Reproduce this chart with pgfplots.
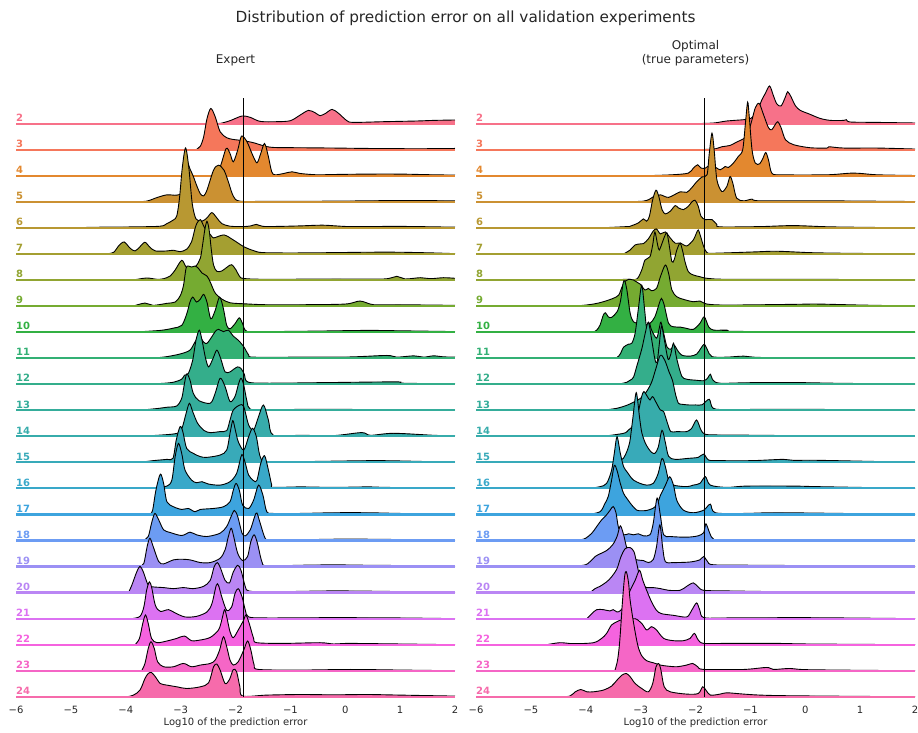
\documentclass[border=0pt]{standalone}
\usepackage{pgfplots}
\pgfplotsset{compat=1.18}
\usepackage{fontspec}
\setmainfont{DejaVu Sans}

\definecolor{txt}{HTML}{262626}
\definecolor{c2}{HTML}{F77189}
\definecolor{c3}{HTML}{F5775B}
\definecolor{c4}{HTML}{E3882F}
\definecolor{c5}{HTML}{CB9132}
\definecolor{c6}{HTML}{B89832}
\definecolor{c7}{HTML}{A49F31}
\definecolor{c8}{HTML}{91A532}
\definecolor{c9}{HTML}{75AB31}
\definecolor{c10}{HTML}{33B043}
\definecolor{c11}{HTML}{33B074}
\definecolor{c12}{HTML}{34AE8B}
\definecolor{c13}{HTML}{35AD9B}
\definecolor{c14}{HTML}{37ACAB}
\definecolor{c15}{HTML}{38AAB9}
\definecolor{c16}{HTML}{39A8C9}
\definecolor{c17}{HTML}{3DA4DE}
\definecolor{c18}{HTML}{6C9CF3}
\definecolor{c19}{HTML}{9B90F4}
\definecolor{c20}{HTML}{BA86F4}
\definecolor{c21}{HTML}{DC72F2}
\definecolor{c22}{HTML}{F563DF}
\definecolor{c23}{HTML}{F566C6}
\definecolor{c24}{HTML}{F66BAB}

% one ridge: colour, baseline (px from top), label, (x, height in px) points
\newcommand{\ridge}[4]{%
  \addplot[fill=#1, draw=none, smooth, tension=0.5, y filter/.expression={y-#2}] coordinates {#4} -- (axis cs:2,-#2) -- cycle;
  \addplot[draw=black, line width=0.9bp, smooth, tension=0.5, y filter/.expression={y-#2}] coordinates {#4};
  \addplot[draw=#1, line width=2.2bp] coordinates {(-6,-#2) (2,-#2)};
  \node[anchor=base west, inner sep=0, text=#1, font=\bfseries\fontsize{10bp}{12bp}\selectfont] at (axis cs:-6,{-#2+2.2}) {#3};
}

\pgfplotsset{ridgeaxis/.style={
  scale only axis, width=439bp, height=617bp,
  xmin=-6, xmax=2, ymin=-697, ymax=-80,
  clip=false,
  axis line style={draw=none},
  ytick=\empty,
  xtick={-6,-5,-4,-3,-2,-1,0,1,2},
  xticklabels={−6,−5,−4,−3,−2,−1,0,1,2},
  major tick length=0pt,
  xticklabel style={anchor=base, yshift=-16bp, font=\fontsize{10bp}{12bp}\selectfont, text=txt},
  xlabel={Log10 of the prediction error},
  xlabel style={at={(axis description cs:0.5,0)}, anchor=base, yshift=-28bp, font=\fontsize{10bp}{12bp}\selectfont, text=txt},
}}

\begin{document}
\begin{tikzpicture}
\useasboundingbox (0,0) rectangle (918bp,733bp);

\node[anchor=base, text=txt, font=\fontsize{15.3bp}{17bp}\selectfont] at (465.5bp,710bp) {Distribution of prediction error on all validation experiments};
\node[anchor=base, text=txt, font=\fontsize{12bp}{14bp}\selectfont] at (235.5bp,669bp) {Expert};
\node[anchor=base, text=txt, font=\fontsize{12bp}{14bp}\selectfont] at (695.5bp,683bp) {Optimal};
\node[anchor=base, text=txt, font=\fontsize{12bp}{14bp}\selectfont] at (695.5bp,669bp) {(true parameters)};

% ---------------- Expert ----------------
\begin{axis}[ridgeaxis, at={(16bp,36bp)}, anchor=south west]
\ridge{c2}{123.7}{2}{(-2.45,0) (-2.28,0.3) (-2.10,3) (-1.88,7.7) (-1.73,6.3) (-1.55,2.3) (-1.25,2) (-1.0,3) (-0.82,8.7) (-0.67,13.3) (-0.55,11) (-0.46,8) (-0.36,10.3) (-0.24,14.3) (-0.12,10.3) (0.03,3) (0.15,1.3) (0.70,2) (1.31,2.7) (1.61,3.3) (2,3.7)}
\ridge{c3}{149.75}{3}{(-2.72,0) (-2.64,3.7) (-2.58,13) (-2.52,31) (-2.45,41.3) (-2.37,33) (-2.28,18) (-2.16,12) (-2.04,10.3) (-1.85,9) (-1.67,7) (-1.49,4) (-1.31,2.3) (-0.82,2) (-0.21,1.7) (0.40,1.3) (1.31,1) (2,1.3)}
\ridge{c4}{175.8}{4}{(-3.25,0) (-2.40,0.5) (-2.28,9) (-2.17,27.3) (-2.10,22.3) (-2.04,14) (-1.96,25.7) (-1.89,39.7) (-1.79,34) (-1.70,22.3) (-1.61,13) (-1.54,22.3) (-1.47,32.3) (-1.40,19) (-1.34,4) (-1.28,1) (-1.12,2.3) (-0.97,4) (-0.82,2.3) (-0.52,1) (-0.21,1.3) (0.40,1.7) (1.0,1.7) (1.61,1) (2,0.7)}
\ridge{c5}{201.85}{5}{(-3.86,0) (-3.62,0.7) (-3.43,4.3) (-3.25,7) (-3.07,6.7) (-2.98,10) (-2.92,30) (-2.88,40) (-2.83,33) (-2.77,25.7) (-2.71,16.7) (-2.64,8) (-2.58,6) (-2.52,11.7) (-2.40,31.7) (-2.31,36.7) (-2.21,31.7) (-2.13,20) (-2.04,5.7) (-1.92,0.7) (-1.43,0.5) (-0.21,0.7) (1.0,1.3) (2,1)}
\ridge{c6}{227.9}{6}{(-5.08,0) (-4.47,0.7) (-3.86,1) (-3.37,1.7) (-3.25,4.3) (-3.13,8) (-3.07,12) (-3.02,30) (-2.97,60) (-2.91,80) (-2.85,60) (-2.79,25) (-2.72,9) (-2.61,6.7) (-2.52,10) (-2.43,15.3) (-2.34,10) (-2.25,4.3) (-2.10,1.7) (-1.86,1.3) (-1.72,2) (-1.62,3.5) (-1.50,1.5) (-1.20,1.5) (-0.82,2) (-0.40,2.7) (0.09,1.3) (1.0,1.5) (2,0.7)}
\ridge{c7}{253.95}{7}{(-4.35,0) (-4.22,1.7) (-4.13,8) (-4.03,12) (-3.92,5.7) (-3.83,3) (-3.74,7.3) (-3.65,11.7) (-3.56,6.7) (-3.46,3) (-3.25,3) (-3.13,3.7) (-3.01,2.3) (-2.89,4.7) (-2.80,12.3) (-2.74,25) (-2.70,31) (-2.64,34.3) (-2.58,28) (-2.52,22) (-2.45,19) (-2.40,16) (-2.21,19) (-2.04,14) (-1.85,7.3) (-1.67,3.3) (-1.49,1.3) (-0.82,1) (0.40,1.7) (1.0,1.7) (1.61,1) (2,0.3)}
\ridge{c8}{280.0}{8}{(-3.86,0) (-3.62,2) (-3.43,0.7) (-3.31,1.3) (-3.19,4) (-3.10,10) (-2.98,19.7) (-2.90,13) (-2.83,12) (-2.72,14) (-2.64,22) (-2.60,35) (-2.56,50) (-2.52,58.7) (-2.48,50) (-2.44,30) (-2.40,15) (-2.34,8.7) (-2.25,9) (-2.15,13) (-2.07,15.3) (-1.99,10) (-1.93,4) (-1.85,1.5) (-1.43,0.7) (-0.21,1) (0.70,1) (0.94,3.7) (1.09,1) (1.37,2.3) (1.55,1.3) (1.79,2.3) (2,1.7)}
\ridge{c9}{306.05}{9}{(-3.86,0) (-3.65,3) (-3.50,0.7) (-3.25,2.7) (-3.10,4) (-3.01,10) (-2.95,20) (-2.90,38) (-2.86,40) (-2.80,39) (-2.74,40) (-2.68,38) (-2.61,33) (-2.52,30) (-2.46,24) (-2.37,13) (-2.25,7) (-2.10,3.3) (-1.86,2.3) (-1.43,1.3) (-0.82,1.3) (0.0,2) (0.27,5) (0.52,1.3) (1.0,1.3) (2,0.7)}
\ridge{c10}{332.1}{10}{(-3.86,0) (-3.37,1.7) (-3.13,4) (-2.98,6.7) (-2.89,18) (-2.83,30) (-2.78,35) (-2.71,30) (-2.64,33) (-2.58,37.7) (-2.52,30) (-2.45,13.3) (-2.37,21.7) (-2.29,35) (-2.22,23.3) (-2.16,6.7) (-2.10,3.3) (-2.01,8.3) (-1.93,14.3) (-1.87,8.3) (-1.79,0.7) (-1.43,0.5) (-0.52,1) (0.40,1.7) (1.0,1.3) (2,0.5)}
\ridge{c11}{358.15}{11}{(-3.50,0) (-3.25,1.5) (-3.0,4.3) (-2.83,8) (-2.74,16) (-2.66,22) (-2.58,16) (-2.52,14.8) (-2.45,19.8) (-2.37,26.5) (-2.31,28.8) (-2.22,26.5) (-2.13,28) (-2.04,22) (-1.95,18) (-1.85,11.5) (-1.76,3.2) (-1.67,1) (-0.82,1) (0.09,1.2) (0.76,2.7) (0.94,1) (1.25,2.3) (1.43,1) (1.61,2.3) (1.79,1.3) (2,1)}
\ridge{c12}{384.2}{12}{(-3.86,0) (-3.37,0.7) (-3.13,2) (-2.98,5) (-2.93,9) (-2.86,10.7) (-2.78,24) (-2.72,44) (-2.66,54) (-2.61,44) (-2.55,27) (-2.49,17.3) (-2.41,25.7) (-2.34,34) (-2.27,25.7) (-2.19,12.3) (-2.10,12.3) (-2.04,14.7) (-1.96,17.3) (-1.90,15.7) (-1.84,10) (-1.78,2.3) (-1.43,1) (-0.21,1.7) (0.94,2.3) (1.06,1) (2,0.3)}
\ridge{c13}{410.25}{13}{(-3.74,0) (-3.43,1.7) (-3.25,3) (-3.07,4.3) (-2.98,12) (-2.94,23.7) (-2.89,36.3) (-2.83,30.3) (-2.77,17) (-2.67,9.7) (-2.46,7) (-2.37,17) (-2.28,32) (-2.19,23.7) (-2.10,8.7) (-2.01,13.7) (-1.95,25.3) (-1.90,32) (-1.85,25.3) (-1.79,8.7) (-1.73,1) (-1.43,0.5) (-0.52,1) (0.40,0.7) (1.61,0.5) (2,0)}
\ridge{c14}{436.3}{14}{(-3.74,0) (-3.13,2.3) (-2.99,6.3) (-2.90,23) (-2.84,33) (-2.78,24.7) (-2.69,13) (-2.57,5.7) (-2.46,3.7) (-2.28,4.7) (-2.16,5.7) (-2.10,16.3) (-2.04,26.3) (-1.92,31.3) (-1.85,29.7) (-1.76,11.3) (-1.67,6.3) (-1.58,19.7) (-1.49,31.3) (-1.40,16.3) (-1.31,1) (-0.82,1) (-0.21,0.7) (0.30,3.7) (0.46,1) (0.88,3) (1.61,1) (2,0.3)}
\ridge{c15}{462.35}{15}{(-3.74,0) (-3.50,1.7) (-3.25,3) (-3.14,4) (-3.08,22.3) (-3.01,35.7) (-2.96,30.7) (-2.89,14) (-2.77,9) (-2.64,5.7) (-2.52,5) (-2.28,7.3) (-2.16,12.3) (-2.10,29) (-2.05,41.7) (-2.01,34) (-1.95,20.7) (-1.85,12.3) (-1.76,25.7) (-1.69,34) (-1.62,25.7) (-1.55,5.7) (-1.43,0.7) (-0.82,0.7) (0.52,1.7) (1.31,1) (2,0)}
\ridge{c16}{488.4}{16}{(-3.86,0) (-3.43,1) (-3.25,2.3) (-3.16,8.3) (-3.10,31.7) (-3.04,45) (-2.98,35) (-2.92,18.3) (-2.80,8.3) (-2.71,5.7) (-2.61,6.7) (-2.49,4.3) (-2.28,3.3) (-2.10,6.7) (-1.98,15) (-1.90,31.7) (-1.87,33.3) (-1.82,25) (-1.76,13.3) (-1.67,7.7) (-1.61,8) (-1.54,25) (-1.47,32.7) (-1.40,18.3) (-1.34,3.3) (-1.31,1) (-0.82,1.5) (-0.21,1) (0.40,1.5) (0.76,1) (2,0)}
\ridge{c17}{514.45}{17}{(-3.56,0) (-3.51,4.3) (-3.45,24.3) (-3.37,40.3) (-3.31,31) (-3.25,12.7) (-3.13,7.7) (-2.98,5) (-2.86,6) (-2.74,2.7) (-2.64,5) (-2.40,6) (-2.22,7.7) (-2.10,12.7) (-2.04,24.3) (-1.99,31) (-1.93,24.3) (-1.87,9.3) (-1.76,6) (-1.67,14.3) (-1.58,29.3) (-1.50,19.3) (-1.43,2.7) (-1.31,1) (-0.82,1) (-0.21,1.7) (0.40,1.7) (1.0,1) (2,0)}
\ridge{c18}{540.5}{18}{(-3.68,0) (-3.59,4) (-3.53,17.3) (-3.47,27) (-3.40,20.7) (-3.31,10.7) (-3.19,8) (-2.98,5) (-2.83,8.3) (-2.71,5.7) (-2.52,4) (-2.28,7.3) (-2.16,14) (-2.08,24) (-2.02,30) (-1.96,24) (-1.88,7.3) (-1.82,4.7) (-1.73,10.7) (-1.65,24) (-1.61,27.5) (-1.55,17.3) (-1.46,2.3) (-1.37,0.7) (-0.82,0.7) (-0.21,1.3) (0.40,1.3) (1.31,0.7) (2,0)}
\ridge{c19}{566.55}{19}{(-3.74,0) (-3.67,3.3) (-3.61,20) (-3.56,28.3) (-3.50,20) (-3.40,5) (-3.31,2.7) (-3.13,6.7) (-2.98,7.3) (-2.83,6.7) (-2.64,4) (-2.46,4) (-2.28,8.3) (-2.19,16.7) (-2.13,30) (-2.08,38.3) (-2.04,31.7) (-1.96,13.3) (-1.87,6) (-1.78,10) (-1.72,25) (-1.66,31.7) (-1.60,23.3) (-1.52,5) (-1.43,0.7) (-0.82,1.3) (-0.21,1.7) (0.40,1.3) (1.61,0.7) (2,0)}
\ridge{c20}{592.6}{20}{(-3.95,0) (-3.89,7.3) (-3.80,20.7) (-3.74,26.3) (-3.68,20.7) (-3.59,7.3) (-3.50,5.7) (-3.31,5) (-3.13,4) (-2.95,5) (-2.77,4) (-2.58,6.3) (-2.46,12.3) (-2.39,25.7) (-2.33,30) (-2.27,24) (-2.19,12.3) (-2.11,9.7) (-2.04,20.7) (-1.96,27.3) (-1.90,22.3) (-1.82,5.7) (-1.76,1.7) (-1.43,0.7) (-0.21,1.7) (1.0,1) (2,0)}
\ridge{c21}{618.65}{21}{(-3.89,0) (-3.74,2.3) (-3.67,11.7) (-3.62,28.3) (-3.57,36.7) (-3.53,31.7) (-3.46,13.3) (-3.37,7.3) (-3.22,9) (-3.10,5.7) (-2.92,1.7) (-2.71,2.3) (-2.52,6.7) (-2.43,15) (-2.35,33.3) (-2.31,33.3) (-2.25,21.7) (-2.16,8.3) (-2.07,11.7) (-2.01,25) (-1.95,30) (-1.88,21.7) (-1.82,8.3) (-1.76,1.7) (-1.43,0.7) (-0.21,1) (1.0,0.7) (2,0)}
\ridge{c22}{644.7}{22}{(-3.83,0) (-3.75,6.3) (-3.69,21.3) (-3.64,29.7) (-3.59,21.3) (-3.53,6.3) (-3.43,2) (-3.25,3.7) (-3.07,6.3) (-2.93,8.7) (-2.80,4) (-2.64,4.7) (-2.46,7.3) (-2.31,14.7) (-2.25,24.7) (-2.20,35) (-2.16,28) (-2.10,13) (-2.04,7) (-1.95,14.7) (-1.85,24.7) (-1.81,29.7) (-1.75,21.3) (-1.67,6.3) (-1.61,2) (-1.12,1.3) (-0.46,2) (-0.21,0.7) (0.03,1.3) (0.6,1) (2,0)}
\ridge{c23}{670.75}{23}{(-3.71,0) (-3.65,7.3) (-3.59,22.3) (-3.54,29) (-3.48,22.3) (-3.42,9) (-3.31,4) (-3.13,4) (-2.95,7.3) (-2.80,4) (-2.64,5.7) (-2.46,7.3) (-2.37,10.7) (-2.29,20.7) (-2.22,34) (-2.16,24) (-2.10,10.7) (-2.04,5.7) (-1.95,9) (-1.85,20.7) (-1.78,29.7) (-1.72,20.7) (-1.66,5.7) (-1.58,1.3) (-0.82,0.7) (0.09,1.3) (1.0,0.7) (2,0)}
\ridge{c24}{696.8}{24}{(-3.98,0) (-3.86,1.7) (-3.74,6.7) (-3.65,18.3) (-3.59,23.3) (-3.53,24.3) (-3.46,20) (-3.37,13.3) (-3.25,11.7) (-3.07,10) (-2.89,8.3) (-2.64,10) (-2.49,14) (-2.40,30) (-2.34,32.7) (-2.28,26.7) (-2.19,13.3) (-2.11,17.3) (-2.04,27.3) (-1.98,25) (-1.92,10) (-1.87,0.7) (-1.43,1.7) (-0.82,2.3) (-0.21,2) (0.40,2.3) (1.0,1.7) (2,0.7)}
\addplot[black, line width=0.8bp] coordinates {(-1.86,-697) (-1.86,-98)};
\end{axis}

% ---------------- Optimal ----------------
\begin{axis}[ridgeaxis, at={(476bp,36bp)}, anchor=south west]
\ridge{c2}{123.7}{2}{(-2.04,0) (-1.67,0.7) (-1.43,2.7) (-1.12,4) (-1.0,5) (-0.88,12) (-0.79,24) (-0.73,30) (-0.65,37.7) (-0.58,28) (-0.52,20) (-0.44,17.7) (-0.36,27) (-0.32,32) (-0.26,27) (-0.18,18) (-0.09,13.3) (0.06,10) (0.27,5.3) (0.46,3.3) (0.70,3.3) (0.75,4) (0.82,1.7) (1.31,1.3) (2,0.7)}
\ridge{c3}{149.75}{3}{(-2.04,0) (-1.67,0.7) (-1.52,3) (-1.37,4.3) (-1.25,7.7) (-1.16,10) (-1.06,14) (-0.97,30) (-0.91,42) (-0.84,46.3) (-0.76,35) (-0.67,22) (-0.61,20) (-0.55,25) (-0.50,28) (-0.44,22) (-0.36,10) (-0.21,5) (0.09,2) (0.40,1.7) (0.43,3) (0.70,1.7) (1.31,1.7) (2,0.7)}
\ridge{c4}{175.8}{4}{(-2.95,0) (-2.43,1) (-2.13,2.7) (-2.04,7.7) (-1.96,11) (-1.90,7.7) (-1.82,7.7) (-1.76,10) (-1.68,10) (-1.55,6) (-1.46,9.3) (-1.40,8.3) (-1.31,12.7) (-1.22,19.3) (-1.14,26) (-1.09,52.7) (-1.05,73.7) (-1.02,59) (-0.97,26) (-0.91,12.7) (-0.83,12) (-0.77,17.7) (-0.72,23.3) (-0.67,16) (-0.61,2.7) (-0.46,1) (0.40,1) (0.88,2.7) (1.31,1) (2,0.3)}
\ridge{c5}{201.85}{5}{(-3.56,0) (-2.95,0.7) (-2.77,5) (-2.64,7) (-2.49,4.5) (-2.28,10) (-2.16,9.5) (-2.07,14) (-1.98,20) (-1.88,25) (-1.79,27) (-1.75,48) (-1.70,68.7) (-1.66,52) (-1.61,22) (-1.52,10.3) (-1.43,15.3) (-1.37,25.3) (-1.32,18.7) (-1.25,3.7) (-1.12,1) (-0.97,2.7) (-0.82,1) (0.40,1) (2,0.3)}
\ridge{c6}{227.9}{6}{(-3.74,0) (-3.25,1.3) (-3.19,1.7) (-3.04,5) (-2.95,9) (-2.89,6.7) (-2.84,11.7) (-2.78,28.3) (-2.72,37.7) (-2.67,31.7) (-2.61,18.3) (-2.55,14) (-2.46,16.7) (-2.37,22.3) (-2.31,20) (-2.22,18.3) (-2.13,21.7) (-2.07,25.7) (-2.01,27.7) (-1.95,21.7) (-1.90,11.7) (-1.82,8.3) (-1.70,8.3) (-1.61,3.3) (-1.55,1) (-0.82,1.3) (-0.21,2.3) (0.5,1) (2,0)}
\ridge{c7}{253.95}{7}{(-3.31,0) (-3.19,4) (-3.10,9) (-3.01,10) (-2.95,10.3) (-2.86,15) (-2.77,23) (-2.71,25) (-2.64,20) (-2.55,22) (-2.46,16) (-2.37,10.7) (-2.28,11) (-2.16,8) (-2.04,14) (-1.99,20) (-1.95,24) (-1.91,18) (-1.85,7.3) (-1.79,1.3) (-1.67,0.7) (-0.94,2) (-0.52,2.7) (0.09,1.3) (0.70,0.7) (2,0)}
\ridge{c8}{280.0}{8}{(-3.56,0) (-3.25,0.7) (-3.07,1) (-2.98,10) (-2.92,20) (-2.83,23.3) (-2.78,35) (-2.74,48) (-2.69,35) (-2.66,30) (-2.61,36.7) (-2.56,44) (-2.52,47) (-2.48,35) (-2.43,18.3) (-2.39,20) (-2.34,30) (-2.28,36.7) (-2.23,28) (-2.19,18) (-2.13,8.3) (-2.04,5) (-1.92,3.3) (-1.79,1.7) (-1.43,0.7) (0.09,0.7) (2,0)}
\ridge{c9}{306.05}{9}{(-4.77,0) (-4.16,0.3) (-3.86,2) (-3.68,4.3) (-3.50,7.7) (-3.40,11) (-3.34,19) (-3.28,25) (-3.22,26.7) (-3.13,26) (-3.07,24) (-3.01,22) (-2.92,16) (-2.86,17.7) (-2.80,15.3) (-2.71,17.7) (-2.64,29.3) (-2.55,41) (-2.49,32.7) (-2.43,16) (-2.34,9.3) (-2.22,6.7) (-2.04,4.3) (-1.92,5) (-1.79,2) (-1.43,1) (-0.21,1.7) (0.21,2) (1.0,1) (2,0)}
\ridge{c10}{332.1}{10}{(-3.86,0) (-3.80,2) (-3.74,7) (-3.68,17) (-3.64,19.3) (-3.59,15.3) (-3.53,14.7) (-3.43,20.3) (-3.37,30.3) (-3.32,48.7) (-3.29,51.3) (-3.25,42) (-3.19,18.7) (-3.13,10.3) (-3.04,8.7) (-2.95,7) (-2.83,8.7) (-2.74,15.3) (-2.66,28.7) (-2.62,33.7) (-2.57,27) (-2.49,8.7) (-2.40,5.3) (-2.28,5) (-2.16,3.7) (-2.04,2.7) (-1.92,8.7) (-1.84,15.3) (-1.76,5.3) (-1.67,2) (-1.43,2) (-1.25,0.7) (2,0)}
\ridge{c11}{358.15}{11}{(-3.53,0) (-3.43,0.7) (-3.37,4.3) (-3.31,11) (-3.22,14) (-3.16,15) (-3.10,25) (-3.04,50) (-2.98,73) (-2.93,50) (-2.89,30) (-2.84,35) (-2.80,28) (-2.71,20) (-2.66,30) (-2.63,36) (-2.58,25) (-2.52,11.3) (-2.45,9) (-2.39,13) (-2.33,8) (-2.25,3) (-2.10,2) (-1.98,4) (-1.90,10) (-1.84,14) (-1.78,8) (-1.70,1.5) (-1.43,1) (-1.12,2) (-0.82,0.7) (0.40,0.3) (2,0)}
\ridge{c12}{384.2}{12}{(-3.40,0) (-3.25,2) (-3.19,4) (-3.13,7) (-3.07,18) (-2.98,35) (-2.92,50) (-2.86,62) (-2.80,45) (-2.74,25) (-2.70,22) (-2.66,40) (-2.62,58) (-2.57,45) (-2.50,25) (-2.45,30) (-2.40,41) (-2.34,25) (-2.25,8) (-2.16,5) (-2.0,4) (-1.85,3.5) (-1.78,6) (-1.73,10) (-1.68,4) (-1.55,1) (-1.0,1.5) (0,1.5) (0.5,1) (2,0)}
\ridge{c13}{410.25}{13}{(-3.68,0) (-3.43,2) (-3.25,5) (-3.13,8) (-3.0,12) (-2.9,18) (-2.8,28) (-2.72,42) (-2.64,55) (-2.56,50) (-2.48,38) (-2.42,30) (-2.36,15) (-2.31,7) (-2.25,6) (-2.13,5.3) (-2.0,5.3) (-1.88,5.5) (-1.75,11) (-1.68,2) (-1.43,0.7) (-0.21,1) (2,0)}
\ridge{c14}{436.3}{14}{(-3.68,0) (-3.31,3) (-3.22,6.3) (-3.12,12) (-3.04,25) (-2.98,40) (-2.94,44.7) (-2.88,40) (-2.83,36.3) (-2.78,39.7) (-2.71,33) (-2.64,26.3) (-2.58,24.7) (-2.51,13) (-2.45,4.7) (-2.34,4.7) (-2.16,4.7) (-2.07,8) (-1.98,16.3) (-1.90,6.3) (-1.82,2) (-1.55,1.3) (-0.82,1) (0.76,0)}
\ridge{c15}{462.35}{15}{(-3.68,0) (-3.37,2) (-3.28,7.3) (-3.20,20) (-3.14,45) (-3.08,69.7) (-3.02,45) (-2.98,30) (-2.92,20) (-2.86,14) (-2.80,10) (-2.74,9) (-2.68,15) (-2.61,32) (-2.55,20) (-2.49,6) (-2.37,3) (-2.13,4) (-1.95,5) (-1.85,8.3) (-1.76,2.3) (-1.55,1.7) (-0.97,1.7) (-0.40,3) (-0.21,2) (0.27,2) (2,0)}
\ridge{c16}{488.4}{16}{(-3.95,0) (-3.74,1.7) (-3.62,5) (-3.53,18) (-3.48,35) (-3.43,51.7) (-3.37,35) (-3.31,21.7) (-3.25,16.7) (-3.19,12) (-3.13,8.3) (-3.01,5) (-2.89,3.3) (-2.77,5) (-2.68,15) (-2.61,30) (-2.55,22) (-2.49,8.3) (-2.40,3.3) (-2.16,1.7) (-2.04,3.3) (-1.92,5) (-1.82,11.7) (-1.73,3.3) (-1.43,1) (-1.07,2.3) (-0.21,2.3) (0.27,1.7) (2,0)}
\ridge{c17}{514.45}{17}{(-3.95,0) (-3.74,2.7) (-3.65,11) (-3.59,18) (-3.53,34) (-3.48,49) (-3.43,44) (-3.37,31) (-3.31,21) (-3.25,16) (-3.16,9.3) (-3.07,4.3) (-2.98,3.7) (-2.89,4) (-2.78,6) (-2.70,10) (-2.64,19) (-2.55,29) (-2.47,37.7) (-2.40,29) (-2.34,14) (-2.22,4.3) (-2.04,1.7) (-1.85,4.3) (-1.73,10.3) (-1.64,1.7) (-1.12,1) (-0.40,1.7) (2,0)}
\ridge{c18}{540.5}{18}{(-4.29,0) (-4.04,1.3) (-3.89,7.3) (-3.80,14) (-3.71,20.7) (-3.62,25.7) (-3.56,30) (-3.50,34) (-3.45,28) (-3.40,12.3) (-3.31,5.7) (-3.22,6.7) (-3.13,5.7) (-3.04,6.7) (-2.95,4.7) (-2.83,5.7) (-2.77,17.3) (-2.70,42.5) (-2.64,25) (-2.58,5.7) (-2.46,4) (-2.16,3.3) (-1.95,4.7) (-1.85,8) (-1.81,16.7) (-1.74,7.3) (-1.67,1.3) (-1.43,0.7) (2,0)}
\ridge{c19}{566.55}{19}{(-4.47,0) (-4.04,1.3) (-3.92,5) (-3.83,10) (-3.74,12.7) (-3.62,16) (-3.51,21.7) (-3.43,30) (-3.37,40.7) (-3.31,31.7) (-3.25,18) (-3.19,10) (-3.07,6.7) (-2.95,6) (-2.86,4) (-2.77,7) (-2.71,20) (-2.65,41.7) (-2.60,20) (-2.55,5) (-2.40,4) (-2.16,4.3) (-2.04,5) (-1.92,6.7) (-1.85,10) (-1.78,5) (-1.66,1.7) (-0.82,1.3) (0.5,0.7) (2,0)}
\ridge{c20}{592.6}{20}{(-3.92,0) (-3.83,4) (-3.74,6.3) (-3.62,10.7) (-3.53,15.7) (-3.43,24) (-3.36,35.7) (-3.28,44) (-3.19,45) (-3.12,40.7) (-3.07,29) (-3.01,15) (-2.92,5.7) (-2.77,5) (-2.64,4) (-2.49,2.3) (-2.28,2.3) (-2.16,6.3) (-2.04,9.7) (-1.95,5.7) (-1.85,2.3) (-1.43,1.7) (-0.21,0.7) (1.31,0)}
\ridge{c21}{618.65}{21}{(-3.98,0) (-3.89,5) (-3.80,9) (-3.68,9) (-3.56,7.7) (-3.50,9) (-3.43,6.7) (-3.37,8) (-3.28,15) (-3.19,28.3) (-3.10,38.3) (-3.02,48.3) (-2.96,38.3) (-2.89,28.3) (-2.80,16.7) (-2.71,8.3) (-2.62,5) (-2.40,3.3) (-2.16,1.7) (-2.07,8.3) (-1.98,15.7) (-1.92,8.3) (-1.85,1) (-1.43,0.7) (-0.21,1) (0.70,0.7) (2,0)}
\ridge{c22}{644.7}{22}{(-4.71,0) (-4.47,2) (-4.22,1) (-3.86,2) (-3.71,6.3) (-3.62,11.3) (-3.53,19.7) (-3.43,23) (-3.34,25) (-3.25,24) (-3.10,26) (-2.98,21.3) (-2.89,14.7) (-2.80,18) (-2.71,14.7) (-2.58,6.3) (-2.40,4) (-2.22,4) (-2.10,6.3) (-2.02,11.3) (-1.95,4.7) (-1.85,1.3) (-1.43,1.3) (-0.52,1.3) (0.09,0.7) (2,0)}
\ridge{c23}{670.75}{23}{(-3.47,0) (-3.42,10.7) (-3.38,30) (-3.33,70) (-3.29,95) (-3.26,99) (-3.22,88) (-3.19,70) (-3.12,45) (-3.05,25) (-2.98,15) (-2.89,10) (-2.77,8) (-2.64,5.7) (-2.52,4.7) (-2.34,4) (-2.16,5.7) (-2.05,7.3) (-1.96,4) (-1.85,1.3) (-1.12,1.3) (-0.70,3.3) (-0.58,1.3) (-0.27,2.3) (0.09,1) (2,0)}
\ridge{c24}{696.8}{24}{(-4.47,0) (-4.29,0.7) (-4.19,5) (-4.09,7.3) (-3.98,5) (-3.86,5) (-3.68,6.7) (-3.53,10.7) (-3.43,16.7) (-3.34,21.7) (-3.26,23.3) (-3.19,20) (-3.10,13.3) (-2.98,8.3) (-2.86,5) (-2.78,13.3) (-2.72,30) (-2.67,33.3) (-2.63,26.7) (-2.57,10) (-2.46,5) (-2.16,2.7) (-1.95,3.3) (-1.87,10) (-1.81,6.7) (-1.73,1.7) (-1.55,2.7) (-1.43,4) (-1.12,2.7) (-0.82,1.7) (-0.21,1) (2,0)}
\addplot[black, line width=0.8bp] coordinates {(-1.84,-697) (-1.84,-98)};
\end{axis}
\end{tikzpicture}
\end{document}
